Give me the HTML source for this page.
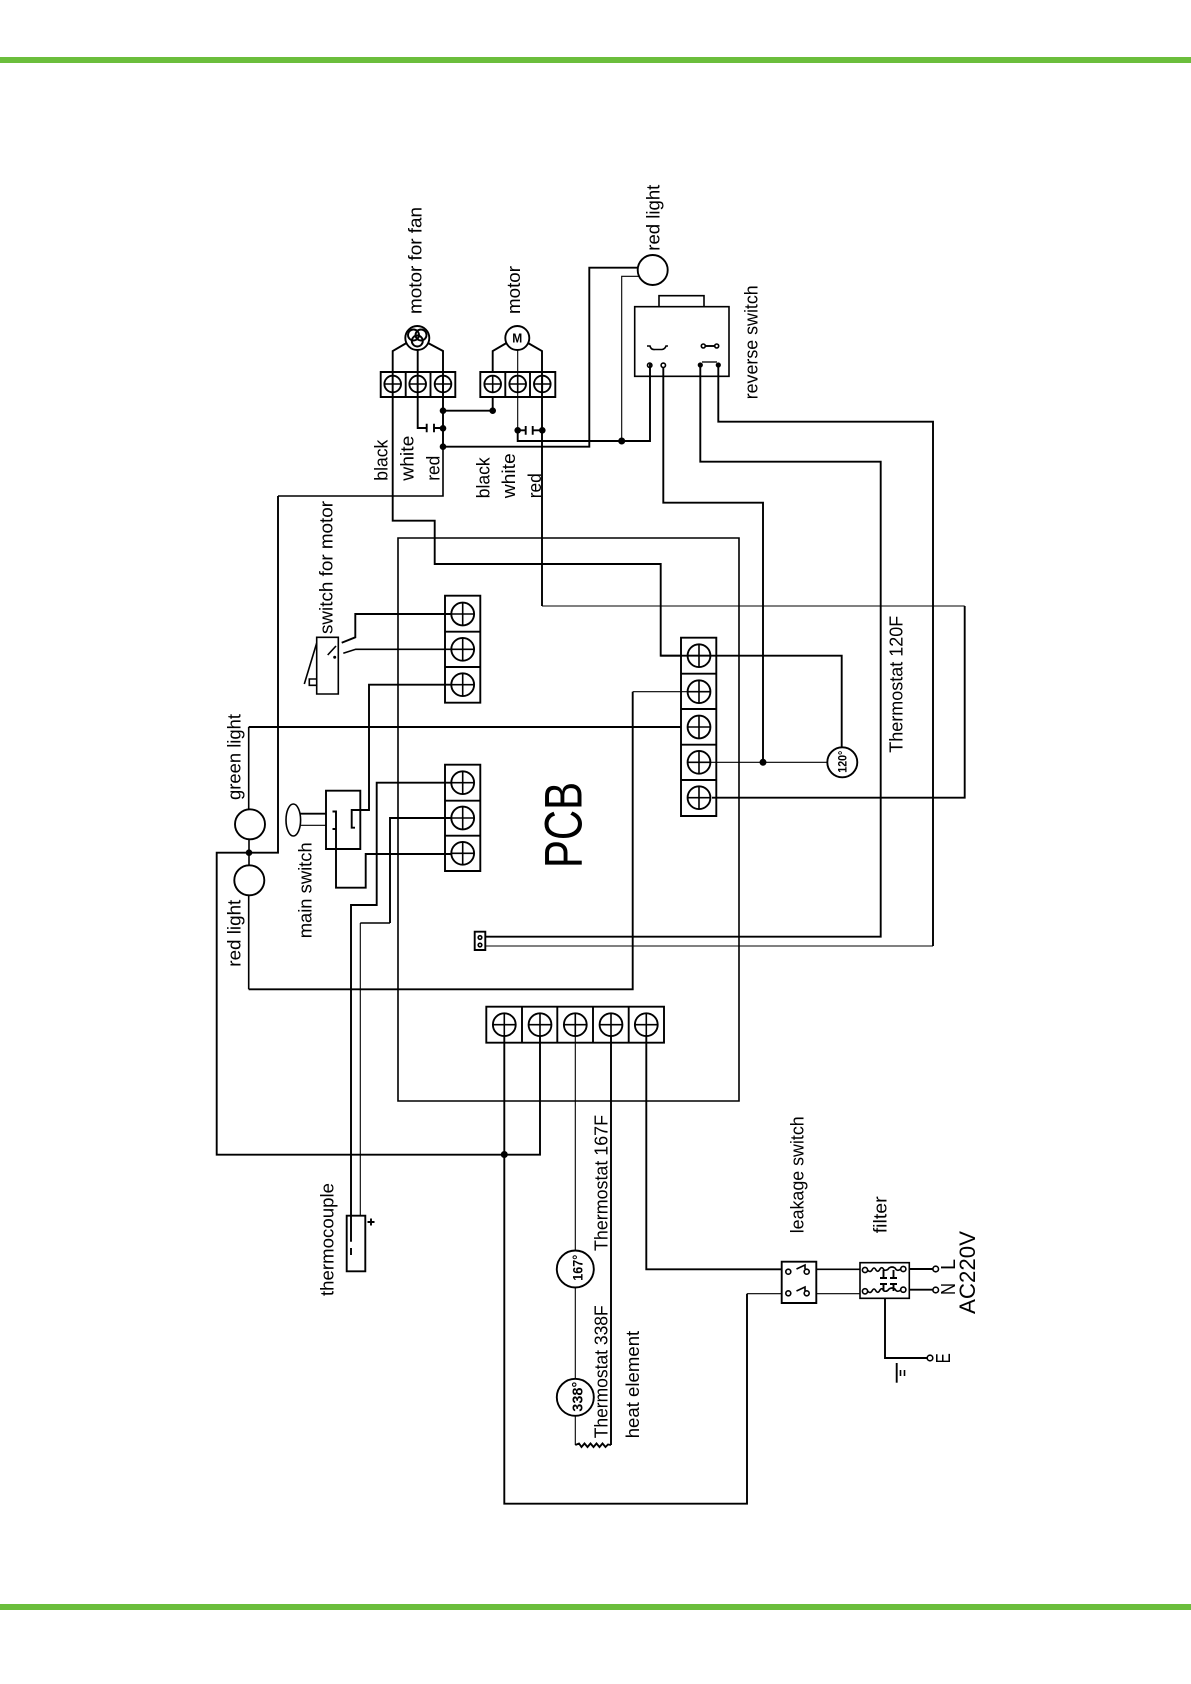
<!DOCTYPE html>
<html><head><meta charset="utf-8"><style>
html,body{margin:0;padding:0;background:#fff;width:1191px;height:1684px;overflow:hidden}
svg{display:block}
.t,.n,.m{fill:none;stroke:#000;stroke-linejoin:miter}
.t{stroke-width:1.9}.m{stroke-width:1.6}.n{stroke-width:1.1}
text{font-family:"Liberation Sans",sans-serif;font-size:18px;fill:#000}
.b{font-weight:bold}
</style></head><body>
<svg width="1191" height="1684" viewBox="0 0 1191 1684" xmlns="http://www.w3.org/2000/svg">
<defs>
<g id="s"><circle r="11.4" class="t"/><path d="M-11.4 0H11.4M0-11.4V11.4" class="m"/></g>
<g id="ss"><circle r="8.3" class="t"/><path d="M-8.3 0H8.3M0-8.3V8.3" class="m"/></g>
</defs>
<rect width="1191" height="1684" fill="#fff"/>
<rect x="0" y="57" width="1191" height="6" fill="#6bbe3c"/>
<rect x="0" y="1604" width="1191" height="6" fill="#6bbe3c"/>

<!-- PCB -->
<path class="m" d="M398 538H739V1101H398Z"/>

<!-- terminal blocks -->
<path class="t" d="M380.700 372H455.300V397H380.700ZM405.700 372V397M430.500 372V397"/>
<path class="t" d="M480.300 372H555.300V397H480.300ZM505.300 372V397M530 372V397"/>
<use href="#ss" x="392.700" y="384"/><use href="#ss" x="417.700" y="384"/><use href="#ss" x="443" y="384"/>
<use href="#ss" x="492.700" y="384"/><use href="#ss" x="517.700" y="384"/><use href="#ss" x="542.300" y="384"/>

<path class="t" d="M445 595.700H480.300V702.700H445ZM445 631.700H480.300M445 667H480.300"/>
<use href="#s" x="462.700" y="614"/><use href="#s" x="462.700" y="649.300"/><use href="#s" x="462.700" y="684.700"/>
<path class="t" d="M445 764.700H480.300V871H445ZM445 800.700H480.300M445 835.700H480.300"/>
<use href="#s" x="462.700" y="782.700"/><use href="#s" x="462.700" y="818"/><use href="#s" x="462.700" y="853.300"/>
<path class="t" d="M681 637.700H716.300V816H681ZM681 673.700H716.300M681 709H716.300M681 744.700H716.300M681 780H716.300"/>
<use href="#s" x="699" y="655.700"/><use href="#s" x="699" y="691.700"/><use href="#s" x="699" y="727"/><use href="#s" x="699" y="762.300"/><use href="#s" x="699" y="797.700"/>
<path class="t" d="M486.300 1006.700H664V1042.700H486.300ZM522 1006.700V1042.700M557.300 1006.700V1042.700M593 1006.700V1042.700M628.700 1006.700V1042.700"/>
<use href="#s" x="504.300" y="1024.700"/><use href="#s" x="540" y="1024.700"/><use href="#s" x="575.300" y="1024.700"/><use href="#s" x="611" y="1024.700"/><use href="#s" x="646.300" y="1024.700"/>

<!-- motors -->
<circle cx="417.300" cy="338" r="12" class="t"/>
<circle cx="413.500" cy="335" r="5.500" class="t"/><circle cx="421" cy="335" r="5.500" class="t"/><circle cx="417.300" cy="341" r="5.500" class="t"/>
<circle cx="517.300" cy="338" r="12" class="t"/>
<text x="517.300" y="342.500" text-anchor="middle" class="b" style="font-size:13px" textLength="10" lengthAdjust="spacingAndGlyphs">M</text>
<path class="t" d="M406.500 343L392.700 351V520.700H434.700V564H660.700V655.700H841.700V747"/>
<path class="t" d="M428 343L443 351V446.700"/>
<path class="m" d="M443 446.700V496H278"/>
<path class="t" d="M278 496V852.700H216.700V1154.700H540V1036"/>
<path class="t" d="M417.700 350V428H426.700M434 428H443"/>
<path class="t" d="M426.700 423.700V432.300M434 423.700V432.300"/>
<path class="t" d="M443 410.700H492.700V396"/>
<path class="t" d="M506.500 343L492.700 351V372"/>
<path class="t" d="M528 343L542 351V606"/>
<path class="n" d="M542 606H964.700"/>
<path class="t" d="M964.700 606V797.700H712"/>
<path class="n" d="M517.700 350V441"/>
<path class="t" d="M517.700 430.300H525.700M532.700 430.300H542.300M525.700 426V434.700M532.700 426V434.700"/>
<path class="t" d="M517.700 430V441H650V364"/>
<path class="n" d="M621.700 441V276.300H640"/>
<path class="t" d="M443 446.700H589.300V267.700H638"/>
<circle cx="652.700" cy="270" r="15" class="t" fill="#fff"/>

<!-- reverse switch -->
<path class="m" d="M634.700 306.700H729V376.300H634.700ZM659 306.700V295.700H704V306.700"/>
<path class="m" d="M647 346H650Q651 350 655 349.500H662Q665 349 666 346H668"/>
<path class="t" d="M705 346H715"/>
<path class="t" d="M663.300 367V502.700H763V762"/>
<path class="t" d="M700.300 365V461.700H880.700V936.700H485"/>
<path class="t" d="M718.300 365V421.700H933V946"/>
<path class="n" d="M933 946H485"/>
<path d="M702 362H717" stroke="#555" stroke-width="2"/>
<circle cx="703.300" cy="346" r="2" class="m" fill="#fff"/><circle cx="716.700" cy="346" r="2" class="m" fill="#fff"/>
<circle cx="649.700" cy="365.300" r="2.200" class="m" fill="#fff"/><circle cx="663.300" cy="365.300" r="2.200" class="m" fill="#fff"/>
<circle cx="700.300" cy="365" r="2.600"/><circle cx="718.300" cy="365" r="2.600"/>

<!-- 120 thermostat -->
<circle cx="842.300" cy="762.300" r="15" class="t" fill="#fff"/>
<path class="n" d="M711 762.300H827.300"/>
<path class="t" d="M660.700 655.700H681"/>

<!-- switch for motor -->
<path class="m" d="M316.700 637.300H338.300V694H316.700ZM309.300 679H316.700V685.300H309.300Z"/>
<path class="m" d="M316.700 643L304.300 684M327.700 655L336 646"/>
<circle cx="334.700" cy="657.300" r="1.500"/>
<path class="t" d="M451 614H355.300V637.300L341.700 642.700"/>
<path d="M451 649.300H355.700L343.300 653.300" class="m"/>
<path class="t" d="M451 684.700H369V810H351.700V827.700H355"/>

<!-- main switch -->
<path class="t" d="M326 790.700H360.300V849H326Z"/>
<ellipse cx="293.300" cy="820" rx="7.300" ry="16" class="m"/>
<path class="t" d="M300 813.700H326"/><path class="n" d="M300 825.300H326"/>
<path class="t" d="M332.500 811.500H336V887.700H365.700V854H451M332.500 829H336"/>
<path class="t" d="M451 782.700H376.700V905H351V1241.700M351 1248V1255"/>
<path class="t" d="M451 818H390V923"/>
<path class="m" d="M390 923H360.300"/><path class="n" d="M360.300 923V1215.700"/>

<!-- thermocouple -->
<path class="t" d="M346.700 1215.700H365.300V1271.300H346.700Z"/>
<path class="t" d="M367.500 1222H374.500M371 1218.500V1225.500"/>

<!-- lights -->
<circle cx="250" cy="824.300" r="15" class="t" fill="#fff"/>
<circle cx="249.300" cy="880.300" r="15" class="t" fill="#fff"/>
<path class="m" d="M248.700 809.300V727"/><path class="t" d="M248.700 727H681"/>
<path class="m" d="M249 839.300V865.300M248.700 895.300V989.300"/>
<path class="t" d="M248.700 989.300H632.700V691.700"/><path class="n" d="M632.700 691.700H688"/>

<!-- connector -->
<path class="t" d="M474.700 931.700H485.300V950H474.700Z"/>
<circle cx="480" cy="937.500" r="1.800" class="m"/><circle cx="480" cy="945" r="1.800" class="m"/>

<!-- dots -->
<circle cx="443" cy="410.700" r="3.300"/><circle cx="492.700" cy="410.700" r="3.300"/>
<circle cx="443" cy="428.300" r="3.300"/><circle cx="443" cy="446.700" r="3.300"/>
<circle cx="517.700" cy="430.300" r="3.300"/><circle cx="542.300" cy="430.300" r="3.300"/>
<circle cx="621.700" cy="441" r="3.500"/>
<circle cx="249" cy="852.700" r="3.300"/><circle cx="763" cy="762.300" r="3.500"/><circle cx="504.300" cy="1154.500" r="3.500"/>

<!-- lower wires -->
<path class="t" d="M504.300 1036V1503.700H747V1293.700"/>
<path class="n" d="M747 1293.700H781.700"/>
<path class="n" d="M575.300 1036V1250.500M575.300 1287.500V1379M575.300 1415.800V1445"/>
<path class="t" d="M611 1036V1445"/>
<path class="t" d="M575.300 1445L579 1443.500L581.500 1447L584.500 1443.500L587.500 1447L590.500 1443.500L593.500 1447L596.500 1443.500L599.500 1447L602.500 1443.500L605.500 1447L608 1444.500L611 1445"/>
<circle cx="575.300" cy="1269" r="18.500" class="t"/>
<circle cx="575.300" cy="1397.300" r="18.500" class="t"/>
<path class="t" d="M646.300 1036V1269.300H781.700"/>

<!-- leakage -->
<path class="t" d="M781.700 1261.700H816.300V1303H781.700Z"/>
<circle cx="788.300" cy="1271.700" r="2.500" class="m"/><circle cx="788.300" cy="1293.300" r="2.500" class="m"/>
<circle cx="806.700" cy="1271.700" r="2.500" class="m"/><circle cx="806.700" cy="1293.300" r="2.500" class="m"/>
<path class="m" d="M796.500 1269L805 1265V1269M796.500 1291L805 1287V1291"/>
<path class="m" d="M816.300 1269.300H860"/><path class="n" d="M816.300 1293.700H860"/>

<!-- filter -->
<path class="m" d="M860 1262.700H909.300V1298.300H860Z"/>
<circle cx="865" cy="1270" r="2.600" class="m"/><circle cx="903.300" cy="1269" r="2.600" class="m"/>
<circle cx="865" cy="1291.300" r="2.600" class="m"/><circle cx="903.300" cy="1289.700" r="2.600" class="m"/>
<path class="m" d="M867.600 1270Q870 1273 872 1270Q874 1266 876 1270Q878 1273 880 1269Q882 1266 884 1270Q887 1271 889 1268Q892 1266 895 1268Q897 1272 900.700 1269"/>
<path class="m" d="M867.600 1291Q870 1294 872 1291Q874 1287 876 1291Q878 1294 880 1290Q882 1287 884 1291Q887 1292 889 1289Q892 1287 895 1289Q897 1293 900.700 1290"/>
<path class="t" d="M883.500 1270V1278M893.500 1270V1278M880 1278H887M890 1278H897M880 1284H887M890 1284H897M883.500 1284V1291M893.500 1284V1291"/>
<path class="t" d="M909.300 1269H933M909.300 1289.700H933"/>
<circle cx="935.700" cy="1269" r="2.800" fill="#fff" class="m"/><circle cx="935.700" cy="1290" r="2.800" fill="#fff" class="m"/>
<path class="t" d="M885 1298.300V1358H927"/>
<circle cx="930" cy="1358" r="2.800" fill="#fff" class="m"/>
<path class="t" d="M896.700 1363V1382.700"/>
<path class="m" d="M900.500 1370V1376M904.500 1370V1376"/>

<!-- labels -->
<g>
<text transform="translate(421.700 314) rotate(-90)" textLength="107" lengthAdjust="spacingAndGlyphs">motor for fan</text>
<text transform="translate(520 314) rotate(-90)" textLength="48" lengthAdjust="spacingAndGlyphs">motor</text>
<text transform="translate(659.700 250.700) rotate(-90)" textLength="66" lengthAdjust="spacingAndGlyphs">red light</text>
<text transform="translate(757.700 399.300) rotate(-90)" textLength="114" lengthAdjust="spacingAndGlyphs">reverse switch</text>
<text transform="translate(387.300 480.700) rotate(-90)" textLength="41" lengthAdjust="spacingAndGlyphs">black</text>
<text transform="translate(413.300 480.700) rotate(-90)" textLength="45" lengthAdjust="spacingAndGlyphs">white</text>
<text transform="translate(439.300 480.700) rotate(-90)" textLength="25" lengthAdjust="spacingAndGlyphs">red</text>
<text transform="translate(489.300 498.300) rotate(-90)" textLength="41" lengthAdjust="spacingAndGlyphs">black</text>
<text transform="translate(515 498.300) rotate(-90)" textLength="45" lengthAdjust="spacingAndGlyphs">white</text>
<text transform="translate(541 498.300) rotate(-90)" textLength="25" lengthAdjust="spacingAndGlyphs">red</text>
<text transform="translate(332.300 634) rotate(-90)" textLength="133" lengthAdjust="spacingAndGlyphs">switch for motor</text>
<text transform="translate(240.300 800) rotate(-90)" textLength="86" lengthAdjust="spacingAndGlyphs">green light</text>
<text transform="translate(311.300 938.300) rotate(-90)" textLength="96" lengthAdjust="spacingAndGlyphs">main switch</text>
<text transform="translate(240.300 966.700) rotate(-90)" textLength="67" lengthAdjust="spacingAndGlyphs">red light</text>
<text transform="translate(581.700 868) rotate(-90)" textLength="86" lengthAdjust="spacingAndGlyphs" style="font-size:53px">PCB</text>
<text transform="translate(902.300 752.700) rotate(-90)" textLength="137" lengthAdjust="spacingAndGlyphs">Thermostat 120F</text>
<text transform="translate(846.700 772.700) rotate(-90)" textLength="22" lengthAdjust="spacingAndGlyphs" class="b" style="font-size:12px">120°</text>
<text transform="translate(607.300 1251) rotate(-90)" textLength="136" lengthAdjust="spacingAndGlyphs">Thermostat 167F</text>
<text transform="translate(607.300 1438.300) rotate(-90)" textLength="133" lengthAdjust="spacingAndGlyphs">Thermostat 338F</text>
<text transform="translate(639 1438.300) rotate(-90)" textLength="107.500" lengthAdjust="spacingAndGlyphs">heat element</text>
<text transform="translate(582.300 1280.700) rotate(-90)" textLength="26" lengthAdjust="spacingAndGlyphs" class="b" style="font-size:14px">167°</text>
<text transform="translate(582.300 1411.700) rotate(-90)" textLength="30" lengthAdjust="spacingAndGlyphs" class="b" style="font-size:15px">338°</text>
<text transform="translate(803.300 1233.300) rotate(-90)" textLength="117" lengthAdjust="spacingAndGlyphs">leakage switch</text>
<text transform="translate(886.700 1233.300) rotate(-90)" textLength="37" lengthAdjust="spacingAndGlyphs">filter</text>
<text transform="translate(333.300 1296) rotate(-90)" textLength="113" lengthAdjust="spacingAndGlyphs">thermocouple</text>
<text transform="translate(975 1314) rotate(-90)" textLength="83" lengthAdjust="spacingAndGlyphs" style="font-size:22px">AC220V</text>
<text transform="translate(955 1270) rotate(-90)" textLength="11" lengthAdjust="spacingAndGlyphs" style="font-size:20px">L</text>
<text transform="translate(955 1295) rotate(-90)" textLength="12" lengthAdjust="spacingAndGlyphs" style="font-size:20px">N</text>
<text transform="translate(950 1363.300) rotate(-90)" textLength="10" lengthAdjust="spacingAndGlyphs" style="font-size:20px">E</text>
</g>
</svg>
</body></html>
